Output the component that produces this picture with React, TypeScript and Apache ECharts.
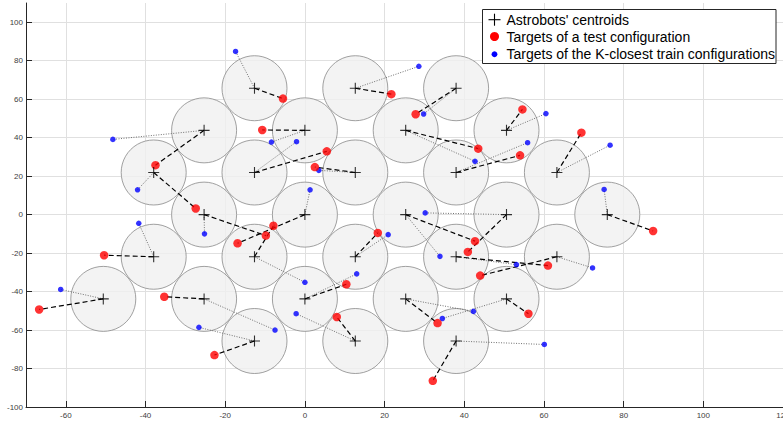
import React, { useEffect, useRef } from 'react';
import * as echarts from 'echarts';

// Astrobots' centroids [x, y]
const centroids: number[][] = [
  [-12.65, 65.7], [12.65, 65.7], [37.95, 65.7],
  [-25.3, 43.8], [0, 43.8], [25.3, 43.8], [50.6, 43.8],
  [-37.95, 21.9], [-12.65, 21.9], [12.65, 21.9], [37.95, 21.9], [63.25, 21.9],
  [-25.3, 0], [0, 0], [25.3, 0], [50.6, 0], [75.9, 0],
  [-37.95, -21.9], [-12.65, -21.9], [12.65, -21.9], [37.95, -21.9], [63.25, -21.9],
  [-50.6, -43.8], [-25.3, -43.8], [0, -43.8], [25.3, -43.8], [50.6, -43.8],
  [-12.65, -65.7], [12.65, -65.7], [37.95, -65.7],
];

// Targets of a test configuration (one per robot, same order)
const testTargets: number[][] = [
  [-5.5, 60.3], [21.7, 62.6], [27.8, 52.2],
  [-37.5, 25.7], [-10.7, 44.0], [43.5, 34.3], [54.6, 54.7],
  [-27.4, 3.2], [5.5, 32.9], [2.5, 24.7], [54.0, 30.8], [69.4, 42.6],
  [-9.8, -10.9], [-16.9, -14.9], [42.7, -13.8], [40.9, -19.4], [87.4, -8.5],
  [-50.4, -21.1], [-7.9, -5.8], [18.3, -9.5], [61.0, -26.5], [44.0, -31.7],
  [-66.7, -49.3], [-35.3, -42.7], [10.4, -36.2], [33.3, -56.4], [56.1, -51.5],
  [-22.7, -73.0], [8.0, -53.2], [32.1, -86.4],
];

// Targets of the K-closest train configurations (one per robot, same order)
const trainTargets: number[][] = [
  [-17.4, 84.8], [28.6, 77.1], [29.8, 52.3],
  [-48.2, 39.1], [-8.4, 37.7], [42.7, 27.7], [60.5, 52.5],
  [-42.0, 12.9], [-2.1, 37.9], [3.5, 23.0], [55.9, 37.4], [76.6, 36.1],
  [-25.2, -10.0], [1.3, 12.9], [33.9, -21.7], [30.2, 0.9], [75.1, 13.1],
  [-41.7, -4.5], [0, -35.2], [20.9, -10.4], [53.1, -26.0], [72.2, -27.7],
  [-61.3, -38.9], [-7.5, -60.0], [13.0, -30.8], [42.3, -50.3], [34.5, -54.0],
  [-26.6, -58.6], [-2.2, -51.5], [60.1, -67.5],
];

const legendLabels: string[] = [
  "Astrobots' centroids",
  'Targets of a test configuration',
  'Targets of the K-closest train configurations',
];

const FONT = "'Liberation Sans', Arial, sans-serif";
const CROSS = 'path://M4.5,0H5.5V4.5H10V5.5H5.5V10H4.5V5.5H0V4.5H4.5Z';

export default function App() {
  const ref = useRef<HTMLDivElement>(null);
  useEffect(() => {
    if (!ref.current) return;
    const chart = echarts.init(ref.current, null, { renderer: 'svg' });
    const dashed = centroids.map((c, i) => ({ coords: [c, testTargets[i]] }));
    const dotted = centroids.map((c, i) => ({ coords: [c, trainTargets[i]] }));
    const axisCommon = {
      type: 'value',
      axisLine: { show: true, onZero: false, lineStyle: { color: '#262626', width: 1 } },
      axisTick: { show: true, inside: true, length: 6, lineStyle: { color: '#262626' } },
      axisLabel: { fontSize: 8, color: '#404040', fontFamily: FONT },
      splitLine: { show: true, lineStyle: { color: '#e0e0e0', width: 1 } },
    };
    const Z = 100;
    chart.setOption({
      animation: false,
      backgroundColor: '#ffffff',
      grid: { left: 26, right: 0, top: 3, bottom: 14, containLabel: false, outerBoundsMode: 'none' },
      xAxis: {
        ...axisCommon,
        min: -70,
        max: 120,
        minInterval: 20,
        maxInterval: 20,
        axisLabel: { ...axisCommon.axisLabel, margin: 4, showMinLabel: false },
        splitLine: { ...axisCommon.splitLine, showMinLine: false },
      },
      yAxis: {
        ...axisCommon,
        min: -100,
        max: 110,
        interval: 20,
        axisLabel: { ...axisCommon.axisLabel, margin: 3, showMaxLabel: false },
        splitLine: { ...axisCommon.splitLine, showMaxLine: false },
      },
      series: [
        {
          name: 'areas',
          type: 'scatter',
          data: centroids,
          symbol: 'circle',
          symbolSize: 65,
          silent: true,
          z: 1,
          itemStyle: { color: '#f0f0f0', borderColor: '#8a8a8a', borderWidth: 1 },
        },
        {
          name: 'train links',
          type: 'lines',
          coordinateSystem: 'cartesian2d',
          data: dotted,
          silent: true,
          z: 2,
          lineStyle: { color: '#707070', width: 1, type: [1, 1.5], opacity: 1 },
        },
        {
          name: 'test links',
          type: 'lines',
          coordinateSystem: 'cartesian2d',
          data: dashed,
          silent: true,
          z: 3,
          lineStyle: { color: '#000000', width: 1.2, type: [5, 3], opacity: 1 },
        },
        {
          name: legendLabels[2],
          type: 'scatter',
          data: trainTargets,
          symbol: 'circle',
          symbolSize: 5.5,
          z: 4,
          itemStyle: { color: '#0000ff' },
        },
        {
          name: legendLabels[1],
          type: 'scatter',
          data: testTargets,
          symbol: 'circle',
          symbolSize: 8.5,
          z: 5,
          itemStyle: { color: '#ff0000' },
        },
        {
          name: legendLabels[0],
          type: 'scatter',
          data: centroids,
          symbol: CROSS,
          symbolSize: 11,
          z: 6,
          itemStyle: { color: '#000000' },
        },
      ],
      graphic: [
        {
          type: 'rect',
          z: Z,
          shape: { x: 482.5, y: 9.5, width: 293.5, height: 54 },
          style: { fill: '#ffffff', stroke: '#262626', lineWidth: 1 },
        },
        { type: 'line', z: Z + 1, shape: { x1: 488.5, y1: 19.7, x2: 500.5, y2: 19.7 }, style: { stroke: '#000', lineWidth: 1.1 } },
        { type: 'line', z: Z + 1, shape: { x1: 494.5, y1: 13.7, x2: 494.5, y2: 25.7 }, style: { stroke: '#000', lineWidth: 1.1 } },
        { type: 'circle', z: Z + 1, shape: { cx: 494.5, cy: 36.5, r: 4.5 }, style: { fill: '#ff0000' } },
        { type: 'circle', z: Z + 1, shape: { cx: 494.5, cy: 54.3, r: 2.9 }, style: { fill: '#0000ff' } },
        ...legendLabels.map((t, i) => ({
          type: 'text',
          z: Z + 1,
          x: 506.5,
          y: [19.7, 36.8, 54.3][i],
          style: { text: t, fontSize: 14, fontFamily: FONT, fill: '#000', verticalAlign: 'middle', align: 'left' },
        })),
      ],
    });
    return () => chart.dispose();
  }, []);
  return (
    <div
      ref={ref}
      style={{ position: 'fixed', left: 0, top: 0, width: 783, height: 421, background: '#fff' }}
    />
  );
}
